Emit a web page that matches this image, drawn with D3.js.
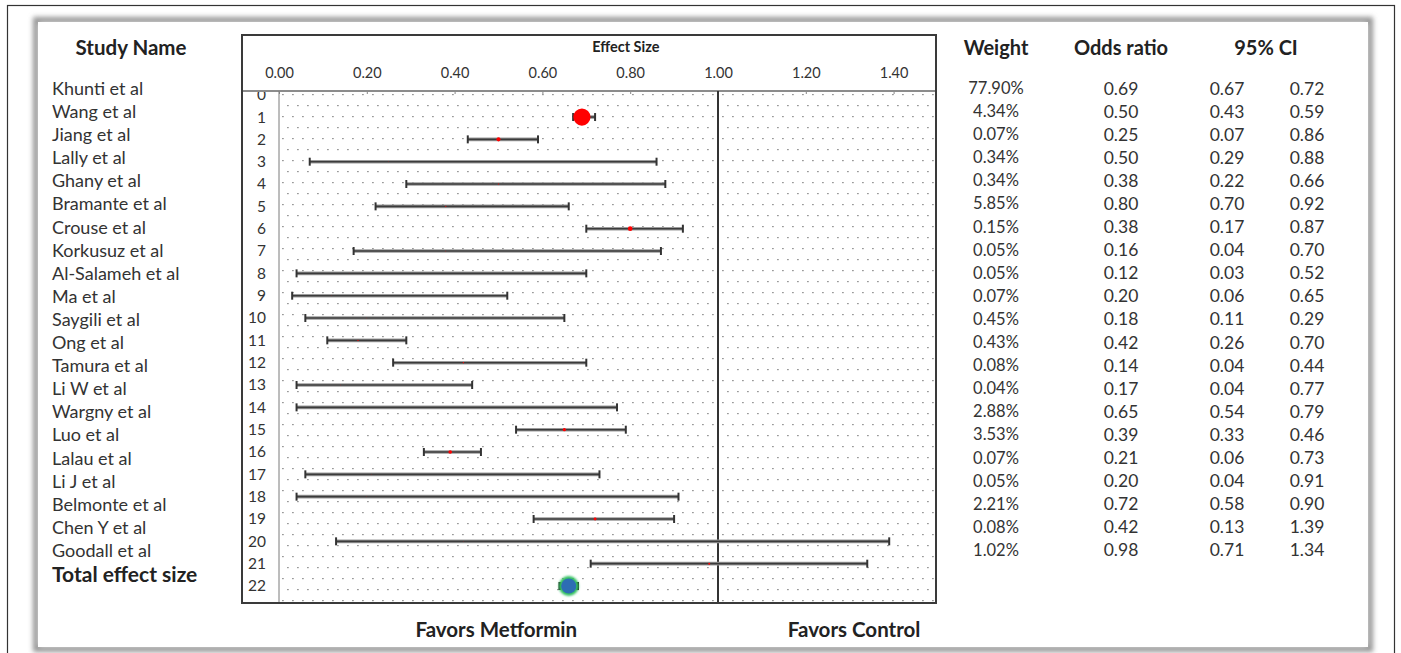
<!DOCTYPE html>
<html><head><meta charset="utf-8">
<script src="https://cdn.jsdelivr.net/npm/d3@7"></script>
<style>
body{margin:0;background:#fff}
svg{display:block}
text{font-family:Lato,"Open Sans",sans-serif}
</style>
</head><body>
<svg id="c" width="1401" height="653"></svg>
<script>
// ---------------- data ----------------
const studies = ["Khunti et al","Wang et al","Jiang et al","Lally et al","Ghany et al","Bramante et al",
  "Crouse et al","Korkusuz et al","Al-Salameh et al","Ma et al","Saygili et al","Ong et al","Tamura et al",
  "Li W et al","Wargny et al","Luo et al","Lalau et al","Li J et al","Belmonte et al","Chen Y et al","Goodall et al"];
const weights = [77.90,4.34,0.07,0.34,0.34,5.85,0.15,0.05,0.05,0.07,0.45,0.43,0.08,0.04,2.88,3.53,0.07,0.05,2.21,0.08,1.02];
const oddsRatio = [0.69,0.50,0.25,0.50,0.38,0.80,0.38,0.16,0.12,0.20,0.18,0.42,0.14,0.17,0.65,0.39,0.21,0.20,0.72,0.42,0.98];
const ciLow  = [0.67,0.43,0.07,0.29,0.22,0.70,0.17,0.04,0.03,0.06,0.11,0.26,0.04,0.04,0.54,0.33,0.06,0.04,0.58,0.13,0.71];
const ciHigh = [0.72,0.59,0.86,0.88,0.66,0.92,0.87,0.70,0.52,0.65,0.29,0.70,0.44,0.77,0.79,0.46,0.73,0.91,0.90,1.39,1.34];
const totalLabel = "Total effect size";
const totalOR = 0.66, totalLow = 0.64, totalHigh = 0.68;   // read from the plotted total dot
const xTicks = [0,0.2,0.4,0.6,0.8,1.0,1.2,1.4];
const yTicks = d3.range(0,24);
const headers = ["Weight","Odds ratio","95% CI"];

// ---------------- layout ----------------
const svg = d3.select("#c");
const defs = svg.append("defs");
const blur = defs.append("filter").attr("id","shadow").attr("x","-5%").attr("y","-5%").attr("width","110%").attr("height","110%");
blur.append("feGaussianBlur").attr("stdDeviation",2.4);
const soft = defs.append("filter").attr("id","soft").attr("x","-50%").attr("y","-50%").attr("width","200%").attr("height","200%");
soft.append("feGaussianBlur").attr("stdDeviation",0.6);
const glow = defs.append("filter").attr("id","glow").attr("x","-50%").attr("y","-50%").attr("width","200%").attr("height","200%");
glow.append("feGaussianBlur").attr("stdDeviation",1.0);

const pat = defs.append("pattern").attr("id","dots").attr("patternUnits","userSpaceOnUse")
  .attr("width",10).attr("height",22).attr("x",281).attr("y",93);
pat.append("rect").attr("x",1).attr("y",1).attr("width",1.8).attr("height",1.2).attr("fill","#9a9a9a");
pat.append("rect").attr("x",6).attr("y",12).attr("width",1.8).attr("height",1.2).attr("fill","#9a9a9a");

// outer frame
svg.append("rect").attr("x",7.5).attr("y",5.5).attr("width",1387).attr("height",700)
  .attr("fill","#fff").attr("stroke","#333").attr("stroke-width",1.2);
// panel with soft shadowed edge
svg.append("rect").attr("x",36).attr("y",20).attr("width",1334).attr("height",629)
  .attr("fill","none").attr("stroke","#959595").attr("stroke-width",6).attr("filter","url(#shadow)");
svg.append("rect").attr("x",38).attr("y",22).attr("width",1330).attr("height",625).attr("fill","#fff");

// scales
const x = d3.scaleLinear().domain([0,1.5]).range([279,937.5]);
const y = d3.scaleLinear().domain([0,22]).range([94.7,586]);
const r = d3.scaleSqrt().domain([0,77.9]).range([0,8.6]);
const ty = d3.scaleLinear().domain([0,21]).range([88,573]);

const boxL = 242, boxR = 936, boxT = 35, boxB = 603, plotT = 91;

// plot area background pattern
svg.append("rect").attr("x",x(0)).attr("y",plotT).attr("width",boxR-x(0)).attr("height",boxB-plotT)
  .attr("fill","url(#dots)");

// y axis row numbers (clipped to plot band)
defs.append("clipPath").attr("id","yclip").append("rect")
  .attr("x",boxL).attr("y",plotT).attr("width",x(0)-boxL).attr("height",boxB-plotT);
const yAxis = svg.append("g").attr("clip-path","url(#yclip)")
  .append("g").attr("transform","translate(266,0)")
  .call(d3.axisLeft(y).tickValues(yTicks).tickSize(0).tickPadding(0));
yAxis.select(".domain").remove();
yAxis.selectAll("text").attr("font-size",15.5).attr("fill","#333").style("font-family","Lato");

// top axis labels
const xAxis = svg.append("g").attr("transform","translate(0,78)")
  .call(d3.axisTop(x).tickValues(xTicks).tickFormat(d3.format(".2f")).tickSize(0).tickPadding(0));
xAxis.select(".domain").remove();
xAxis.selectAll("text").attr("font-size",14.5).attr("fill","#333").style("font-family","Lato");

// small ticks hanging from top line
const xTickMarks = svg.append("g").attr("transform",`translate(0,${plotT})`)
  .call(d3.axisTop(x).tickValues(xTicks).tickFormat("").tickSizeInner(-3).tickSizeOuter(0));
xTickMarks.select(".domain").remove();
xTickMarks.selectAll("line").attr("stroke","#888");

svg.append("text").attr("x",x(0.79)).attr("y",46).attr("text-anchor","middle").attr("dominant-baseline","central")
  .attr("font-size",14.5).attr("font-weight","bold").attr("fill","#222").text("Effect Size");

// top separator line (shadowed)
svg.append("line").attr("x1",boxL).attr("x2",boxR).attr("y1",plotT+1).attr("y2",plotT+1)
  .attr("stroke","#c8c8c8").attr("stroke-width",4).attr("filter","url(#soft)");
svg.append("line").attr("x1",boxL).attr("x2",boxR).attr("y1",plotT).attr("y2",plotT)
  .attr("stroke","#8c8c8c").attr("stroke-width",1.8);
// plot area left edge
svg.append("line").attr("x1",x(0)).attr("x2",x(0)).attr("y1",plotT).attr("y2",boxB)
  .attr("stroke","#7a7a7a").attr("stroke-width",1);
// no-effect line
svg.append("line").attr("x1",x(1)).attr("x2",x(1)).attr("y1",plotT).attr("y2",boxB)
  .attr("stroke","#333").attr("stroke-width",2);

// CI bars
const rows = studies.map((s,i)=>({name:s,w:weights[i],or:oddsRatio[i],lo:ciLow[i],hi:ciHigh[i],row:i+1}));
const g = svg.append("g");
g.selectAll("line.bg").data(rows).join("line").attr("class","bg")
  .attr("x1",d=>x(d.lo)).attr("x2",d=>x(d.hi)).attr("y1",d=>y(d.row)).attr("y2",d=>y(d.row))
  .attr("stroke","#9b9b9b").attr("stroke-width",3.6);
g.selectAll("line.fg").data(rows).join("line").attr("class","fg")
  .attr("x1",d=>x(d.lo)).attr("x2",d=>x(d.hi)).attr("y1",d=>y(d.row)).attr("y2",d=>y(d.row))
  .attr("stroke","#3b3b3b").attr("stroke-width",1.6);
["lo","hi"].forEach(k=>{
  g.selectAll("line.cap"+k).data(rows).join("line").attr("class","cap"+k)
    .attr("x1",d=>x(d[k])).attr("x2",d=>x(d[k])).attr("y1",d=>y(d.row)-4).attr("y2",d=>y(d.row)+4)
    .attr("stroke","#333").attr("stroke-width",2);
});
g.selectAll("circle.pt").data(rows).join("circle").attr("class","pt")
  .attr("cx",d=>x(d.or)).attr("cy",d=>y(d.row)).attr("r",d=>r(d.w))
  .attr("fill","#ff0000").attr("filter","url(#soft)");

// total effect
const totalRow = studies.length+1;
[totalLow,totalHigh].forEach(v=>{
  svg.append("line").attr("x1",x(v)).attr("x2",x(v)).attr("y1",y(totalRow)-4).attr("y2",y(totalRow)+4)
    .attr("stroke","#222").attr("stroke-width",3);
});
svg.append("line").attr("x1",x(totalLow)).attr("x2",x(totalHigh)).attr("y1",y(totalRow)).attr("y2",y(totalRow))
  .attr("stroke","#222").attr("stroke-width",2);
svg.append("circle").attr("cx",x(totalOR)).attr("cy",y(totalRow)).attr("r",10)
  .attr("fill","#30c060").attr("filter","url(#glow)");
svg.append("circle").attr("cx",x(totalOR)).attr("cy",y(totalRow)).attr("r",7.6)
  .attr("fill","#2d6db3");

// box border
svg.append("rect").attr("x",boxL).attr("y",boxT).attr("width",boxR-boxL).attr("height",boxB-boxT)
  .attr("fill","none").attr("stroke","#3a3a3a").attr("stroke-width",2);

// favors labels
svg.append("text").attr("x",x(0.495)).attr("y",629).attr("text-anchor","middle").attr("dominant-baseline","central")
  .attr("font-size",20.5).attr("font-weight","bold").attr("fill","#222").text("Favors Metformin");
svg.append("text").attr("x",x(1.31)).attr("y",629).attr("text-anchor","middle").attr("dominant-baseline","central")
  .attr("font-size",20.5).attr("font-weight","bold").attr("fill","#222").text("Favors Control");

// study table (left)
svg.append("text").attr("x",131).attr("y",47).attr("text-anchor","middle").attr("dominant-baseline","central")
  .attr("font-size",20.5).attr("font-weight","bold").attr("fill","#222").text("Study Name");
svg.append("g").selectAll("text").data(studies).join("text")
  .attr("x",52).attr("y",(d,i)=>ty(i)).attr("dominant-baseline","central")
  .attr("font-size",18).attr("fill","#333").text(d=>d);
svg.append("text").attr("x",52).attr("y",ty(studies.length)).attr("dominant-baseline","central")
  .attr("font-size",21).attr("font-weight","bold").attr("fill","#222").text(totalLabel);

// right table
const colX = [996,1121,1227,1307];
const hdrX = [996,1121,1266];
svg.append("g").selectAll("text").data(headers).join("text")
  .attr("x",(d,i)=>hdrX[i]).attr("y",47).attr("text-anchor","middle").attr("dominant-baseline","central")
  .attr("font-size",20).attr("font-weight","bold").attr("fill","#222").text(d=>d);
const f2 = d3.format(".2f");
const cols = [weights.map(w=>f2(w)+"%"), oddsRatio.map(f2), ciLow.map(f2), ciHigh.map(f2)];
cols.forEach((col,c)=>{
  svg.append("g").selectAll("text").data(col).join("text")
    .attr("x",colX[c]).attr("y",(d,i)=>ty(i)).attr("text-anchor","middle").attr("dominant-baseline","central")
    .attr("font-size",c===0?16.5:17.5).attr("fill","#333").text(d=>d);
});
</script>
</body></html>
